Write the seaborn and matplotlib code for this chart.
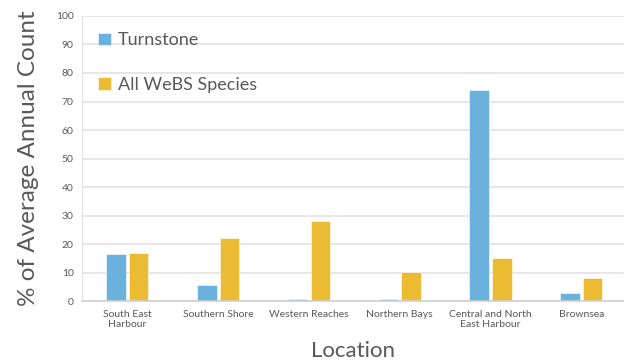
import pandas as pd
import matplotlib.pyplot as plt
import seaborn as sns

# data
locations = ["South East\nHarbour", "Southern Shore", "Western Reaches",
             "Northern Bays", "Central and North\nEast Harbour", "Brownsea"]
turnstone = [16.5, 5.8, 0.7, 0.7, 74.0, 3.0]
all_webs = [17.0, 22.0, 28.0, 10.3, 15.3, 8.0]
series_names = ["Turnstone", "All WeBS Species"]
colors = ["#6AB2DD", "#EBBC33"]

df = pd.DataFrame({
    "Location": locations * 2,
    "Series": [series_names[0]] * len(locations) + [series_names[1]] * len(locations),
    "Value": turnstone + all_webs,
})

sns.set_style("white")
plt.rcParams["font.family"] = ["Lato", "DejaVu Sans"]

fig = plt.figure(figsize=(6.24, 3.62), dpi=100)
ax = fig.add_axes([0.1314, 0.168, 0.8686, 0.788])

sns.barplot(data=df, x="Location", y="Value", hue="Series", palette=colors,
            saturation=1, width=0.5, gap=0.14, edgecolor="white",
            linewidth=0.4, ax=ax)

ax.set_ylim(0, 100)
ax.set_yticks(range(0, 101, 10))
ax.set_xlim(-0.5, 5.47)
ax.yaxis.grid(True, color="#E3E3E3", linewidth=1.2)
ax.set_axisbelow(True)
for side in ["top", "right"]:
    ax.spines[side].set_visible(False)
ax.spines["left"].set_color("#E3E3E3")
ax.spines["bottom"].set_color("#D0D0D0")
ax.spines["bottom"].set_linewidth(1.2)
ax.tick_params(axis="both", length=0, labelsize=7.5, colors="#595959", pad=6)

ax.set_xlabel("Location", fontsize=16, color="#595959", labelpad=9)
ax.set_ylabel("% of Average Annual Count", fontsize=17.5, color="#595959", labelpad=12)

ax.legend(loc="upper left", bbox_to_anchor=(0.0, 1.0), frameon=False,
          fontsize=13, labelcolor="#595959", labelspacing=1.6,
          handlelength=0.7, handleheight=0.7, handletextpad=0.4)

fig.savefig("out.png", dpi=100)
